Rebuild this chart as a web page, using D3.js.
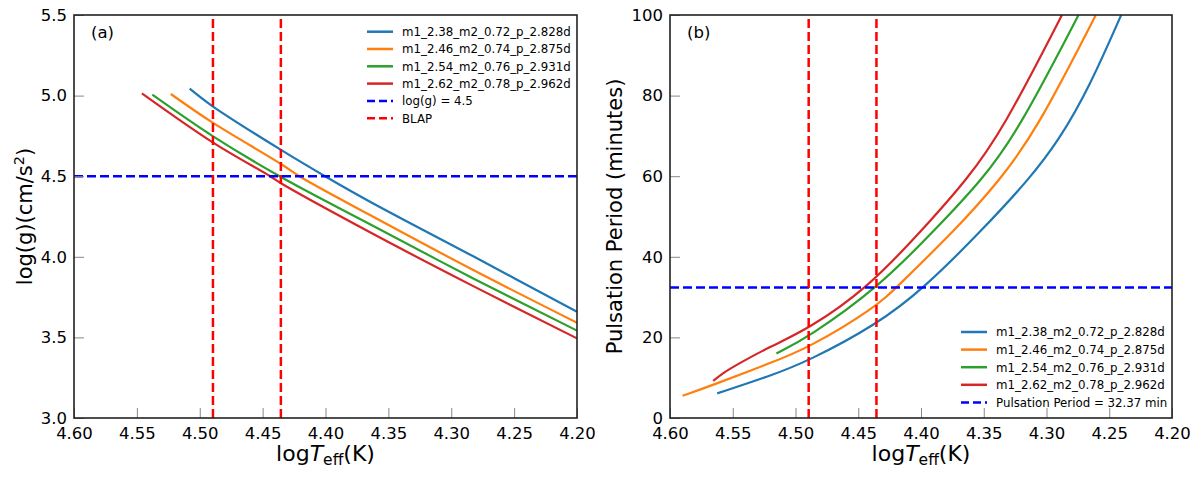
<!DOCTYPE html>
<html>
<head>
<meta charset="utf-8">
<script src="https://cdn.jsdelivr.net/npm/d3@7"></script>
<style>
  html, body { margin: 0; padding: 0; background: #fff; }
  svg text { font-family: "DejaVu Sans", sans-serif; fill: #000; }
</style>
</head>
<body>
<svg id="chart" width="1200" height="480"></svg>
<script>
// ---------------- DATA ----------------
const seriesNames = [
  "m1_2.38_m2_0.72_p_2.828d",
  "m1_2.46_m2_0.74_p_2.875d",
  "m1_2.54_m2_0.76_p_2.931d",
  "m1_2.62_m2_0.78_p_2.962d"
];
const seriesColors = ["#1f77b4", "#ff7f0e", "#2ca02c", "#d62728"];

// panel (a): [logTeff, log g]
const loggBlue   = [[4.508,5.043],[4.490,4.935],[4.4354,4.663],[4.4004,4.500],[4.3646,4.342],[4.2825,4.003],[4.200,3.659]];
const loggOrange = [[4.523,5.010],[4.4897,4.832],[4.4354,4.576],[4.4208,4.500],[4.3646,4.259],[4.2825,3.918],[4.200,3.591]];
const loggGreen  = [[4.5377,5.006],[4.4897,4.749],[4.4354,4.495],[4.3646,4.202],[4.2825,3.866],[4.200,3.542]];
const loggRed    = [[4.546,5.014],[4.4897,4.710],[4.4441,4.500],[4.4354,4.456],[4.3646,4.152],[4.2825,3.818],[4.200,3.494]];

// panel (b): [logTeff, pulsation period (min)]
const periodBlue   = [[4.5624,6.1],[4.5205,10.4],[4.490,14.1],[4.4356,23.1],[4.3972,32.3],[4.3513,46.65],[4.3143,59.06],[4.2899,69.0],[4.266,82.0],[4.2405,100]];
const periodOrange = [[4.590,5.5],[4.5656,8.2],[4.5205,13.6],[4.490,17.3],[4.4356,27.6],[4.4200,32.3],[4.3726,46.65],[4.337,59.06],[4.3079,71.46],[4.2607,100]];
const periodGreen  = [[4.5152,16.0],[4.490,20.0],[4.4343,32.3],[4.3890,46.65],[4.3513,59.06],[4.3222,71.46],[4.2745,100]];
const periodRed    = [[4.5656,9.2],[4.5576,11.2],[4.547,13.2],[4.5205,17.7],[4.490,22.0],[4.4423,32.3],[4.3990,46.65],[4.3636,59.06],[4.3349,71.46],[4.2877,100]];

const blapLogT = [4.4895, 4.4355];
const loggRef = 4.5;
const periodRef = 32.37;

const xTicks  = [4.60, 4.55, 4.50, 4.45, 4.40, 4.35, 4.30, 4.25, 4.20];
const yTicksA = [3.0, 3.5, 4.0, 4.5, 5.0, 5.5];
const yTicksB = [0, 20, 40, 60, 80, 100];

const legendA = [...seriesNames, "log(g) = 4.5", "BLAP"];
const legendB = [...seriesNames, "Pulsation Period = 32.37 min"];

// ---------------- DRAW ----------------
const svg = d3.select("#chart");

function panel(opts) {
  const { left, right, top, bottom, yDomain, yTicks, yFmt, series, hRef, tag, id, curve } = opts;
  const x = d3.scaleLinear().domain([4.60, 4.20]).range([left, right]);
  const y = d3.scaleLinear().domain(yDomain).range([bottom, top]);
  const g = svg.append("g");

  g.append("clipPath").attr("id", id).append("rect")
    .attr("x", left).attr("y", top).attr("width", right - left).attr("height", bottom - top);

  const plot = g.append("g").attr("clip-path", `url(#${id})`);
  const line = d3.line().x(d => x(d[0])).y(d => y(d[1])).curve(curve);

  series.forEach((s, i) => {
    plot.append("path").datum(s).attr("d", line)
      .attr("fill", "none").attr("stroke", seriesColors[i]).attr("stroke-width", 2.2)
      .attr("stroke-linecap", "butt").attr("stroke-linejoin", "round");
  });

  plot.append("line")
    .attr("x1", x(4.60)).attr("x2", x(4.20)).attr("y1", y(hRef)).attr("y2", y(hRef))
    .attr("stroke", "#0000ff").attr("stroke-width", 2.5).attr("stroke-dasharray", "9,4");

  blapLogT.forEach(t => {
    plot.append("line")
      .attr("x1", x(t)).attr("x2", x(t)).attr("y1", y(yDomain[0])).attr("y2", y(yDomain[1]))
      .attr("stroke", "#ff0000").attr("stroke-width", 2.5).attr("stroke-dasharray", "9,4");
  });

  // axes
  const xAxis = d3.axisBottom(x).tickValues(xTicks).tickFormat(d3.format(".2f"))
    .tickSizeInner(-10).tickSizeOuter(0).tickPadding(9);
  const gx = g.append("g").attr("transform", `translate(0,${bottom})`).call(xAxis);
  gx.select(".domain").remove();
  gx.selectAll(".tick line").attr("stroke", "#888").attr("stroke-width", 1);
  gx.selectAll(".tick text").attr("font-size", 16.5).attr("font-family", "DejaVu Sans");

  const yAxis = d3.axisLeft(y).tickValues(yTicks).tickFormat(yFmt)
    .tickSizeInner(-10).tickSizeOuter(0).tickPadding(7);
  const gy = g.append("g").attr("transform", `translate(${left},0)`).call(yAxis);
  gy.select(".domain").remove();
  gy.selectAll(".tick line").attr("stroke", "#888").attr("stroke-width", 1);
  gy.selectAll(".tick text").attr("font-size", 16.5).attr("font-family", "DejaVu Sans");

  // frame
  g.append("rect").attr("x", left).attr("y", top).attr("width", right - left).attr("height", bottom - top)
    .attr("fill", "none").attr("stroke", "#222").attr("stroke-width", 1.6);

  g.append("text").attr("x", left + 17).attr("y", top + 23).attr("font-size", 16.5).text(tag);

  // x label
  const xl = g.append("text").attr("x", (left + right) / 2).attr("y", 461)
    .attr("text-anchor", "middle").attr("font-size", 22);
  xl.append("tspan").text("log");
  xl.append("tspan").attr("font-style", "italic").text("T");
  xl.append("tspan").attr("font-size", 15.5).attr("dy", 4).text("eff");
  xl.append("tspan").attr("dy", -4).text("(K)");

  return { x, y, g };
}

panel({
  left: 74, right: 577, top: 15, bottom: 418,
  yDomain: [3.0, 5.5], yTicks: yTicksA, yFmt: d3.format(".1f"),
  series: [loggBlue, loggOrange, loggGreen, loggRed], hRef: loggRef, tag: "(a)", id: "clipA",
  curve: d3.curveCatmullRom.alpha(0.5)
});
panel({
  left: 670, right: 1172, top: 15, bottom: 418,
  yDomain: [0, 100], yTicks: yTicksB, yFmt: d3.format("d"),
  series: [periodBlue, periodOrange, periodGreen, periodRed], hRef: periodRef, tag: "(b)", id: "clipB",
  curve: d3.curveBasis
});

// y labels
const ylA = svg.append("text").attr("transform", "translate(32,216.5) rotate(-90)")
  .attr("text-anchor", "middle").attr("font-size", 21);
ylA.append("tspan").text("log(g)(cm/s");
ylA.append("tspan").attr("font-size", 14.5).attr("dy", -8).text("2");
ylA.append("tspan").attr("dy", 8).text(")");

svg.append("text").attr("transform", "translate(622,216.5) rotate(-90)")
  .attr("text-anchor", "middle").attr("font-size", 21).text("Pulsation Period (minutes)");

// legends
function legend(items, x0, y0, dy, styles) {
  const lg = svg.append("g");
  items.forEach((name, i) => {
    const yy = y0 + i * dy;
    const st = styles[i];
    lg.append("line").attr("x1", x0).attr("x2", x0 + 26).attr("y1", yy).attr("y2", yy)
      .attr("stroke", st.color).attr("stroke-width", 2.5)
      .attr("stroke-dasharray", st.dash ? "8,4" : null);
    lg.append("text").attr("x", x0 + 35).attr("y", yy + 4.3).attr("font-size", 11.8).text(name);
  });
}
const curveStyles = seriesColors.map(c => ({ color: c, dash: false }));
legend(legendA, 367, 31.7, 17.3, [...curveStyles, { color: "#0000ff", dash: true }, { color: "#ff0000", dash: true }]);
legend(legendB, 961, 332, 17.6, [...curveStyles, { color: "#0000ff", dash: true }]);
</script>
</body>
</html>
